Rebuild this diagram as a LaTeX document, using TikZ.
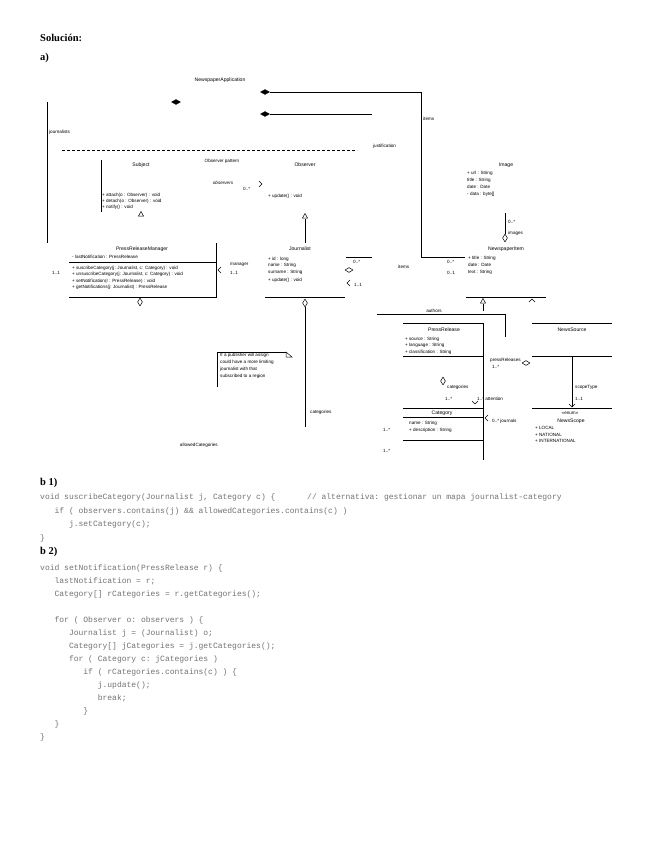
\documentclass[tikz,border=0pt]{standalone}
\usepackage{fontspec}
\setmainfont{Liberation Serif}
\setsansfont{Liberation Sans}
\setmonofont{Liberation Mono}
\usetikzlibrary{shapes.geometric}
\tikzset{
  lbl/.style={font=\sffamily\fontsize{4.6}{5}\selectfont, inner sep=0pt, anchor=west},
  clbl/.style={lbl, anchor=center},
  cls/.style={font=\sffamily\fontsize{5.1}{6}\selectfont, inner sep=0pt, anchor=center},
  code/.style={font=\ttfamily\fontsize{8}{9}\selectfont, text=black!55, inner sep=0pt, anchor=west},
  head/.style={font=\bfseries\fontsize{10.5}{12}\selectfont, inner sep=0pt, anchor=west},
  ln/.style={line width=0.9pt},
  thin ln/.style={line width=0.6pt},
  fdia/.style={diamond, fill=black, draw=black, inner sep=0pt, minimum width=9pt, minimum height=5pt},
  odiav/.style={diamond, draw=black, fill=white, line width=0.5pt, inner sep=0pt, minimum width=5pt, minimum height=8pt},
  odiah/.style={diamond, draw=black, fill=white, line width=0.5pt, inner sep=0pt, minimum width=8pt, minimum height=5pt},
  otri/.pic={\draw[fill=white,line width=0.5pt] (-2.5,2) -- (0,-2.5) -- (2.5,2) -- cycle;},
  larr/.pic={\draw[line width=0.5pt] (3,-3) -- (0,0) -- (3,3);},
  rarr/.pic={\draw[line width=0.5pt] (-3,-3) -- (0,0) -- (-3,3);},
  uarr/.pic={\draw[line width=0.5pt] (-3,3) -- (0,0) -- (3,3);},
  darr/.pic={\draw[line width=0.5pt] (-3,-3) -- (0,0) -- (3,-3);}
}
\begin{document}
\begin{tikzpicture}[x=1pt,y=-1pt]
\useasboundingbox[fill=white] (0,0) rectangle (655,848);

% headings
\node[head] (hsol) at (40,38) {Solución:};
\node[head] (ha) at (40,58) {a)};

% ---------- top part ----------
\node[cls] (napp) at (220,80) {NewspaperApplication};
\node[fdia] (d1) at (176,102) {};
\node[fdia] (d2) at (265,92) {};
\node[fdia] (d3) at (265,114) {};
\coordinate (c2a) at (421,92);
\coordinate (c2b) at (421,257);
\coordinate (c2c) at (465,257);
\coordinate (c3a) at (372,114);
\draw[ln] (d2.east) -- (c2a) -- (c2b) -- (c2c);
\draw[ln] (d3.east) -- (c3a);
\node[lbl] (litems1) at (423,119) {items};

\coordinate (j1) at (47,102);
\coordinate (j2) at (47,243);
\draw[ln] (j1) -- (j2);
\node[lbl] (ljour) at (49,132) {journalists};

\coordinate (ds1) at (62,150);
\coordinate (ds2) at (357,150);
\draw[line width=0.6pt, dash pattern=on 2.6pt off 2.4pt] (ds1) -- (ds2);
\node[lbl] (ljust) at (373,146) {justification};

% Observer pattern
\node[clbl] (lpat) at (222,161) {Observer pattern};
\coordinate (s1) at (101,160);
\coordinate (s2) at (101,212);
\draw[ln] (s1) -- (s2);
\node[cls] (lsubj) at (141,165) {Subject};
\node[lbl] (sm1) at (102,195) {+ attach(o : Observer) : void};
\node[lbl] (sm2) at (102,201) {+ detach(o : Observer) : void};
\node[lbl] (sm3) at (102,207) {+ notify() : void};
\pic at (141,214) {otri};

\node[clbl,font=\sffamily\itshape\fontsize{4.6}{5}\selectfont] (lobs) at (223,183) {observers};
\node[lbl] (lobsm) at (243,189) {0..*};
\pic at (262,184) {rarr};

\node[cls] (lobserver) at (305,165) {Observer};
\node[lbl] (om1) at (268,196) {+ update() : void};
\pic (tobs) at (305,216) {otri};
\coordinate (o1) at (305,218.5);
\coordinate (o2) at (305,243);
\draw[ln] (o1) -- (o2);

% Image
\node[cls] (limg) at (506,165) {Image};
\node[lbl] (ia1) at (467,173) {+ url : String};
\node[lbl] (ia2) at (467,180) {title : String};
\node[lbl] (ia3) at (467,187) {date : Date};
\node[lbl] (ia4) at (467,194) {- data : byte[]};
\coordinate (im1) at (505,213);
\node[odiav] (dimg) at (505,238) {};
\draw[ln] (im1) -- (dimg.north);
\node[lbl] (limm) at (508,222) {0..*};
\node[lbl] (limages) at (508,233) {images};

% NewspaperItem
\node[cls] (lnitem) at (506,249) {NewspaperItem};
\node[lbl] (na1) at (468,258) {+ title : String};
\node[lbl] (na2) at (468,265) {date : Date};
\node[lbl] (na3) at (468,272) {text : String};
\node[lbl] (lnim1) at (447,262) {0..*};
\node[lbl] (lnim2) at (447,273) {0..1};
\node[lbl] (litems2) at (398,267) {items};
\coordinate (nb1) at (466,297);
\coordinate (nb2) at (546,297);
\draw[ln] (nb1) -- (nb2);
\pic at (483,301) {otri};
\coordinate (g1) at (483,303.5);
\coordinate (g2) at (483,311);
\draw[thin ln] (g1) -- (g2);
\pic at (532,299) {uarr};

% PressReleaseManager
\node[cls] (lprm) at (142,249) {PressReleaseManager};
\node[lbl] (pa1) at (72,257) {- lastNotification : PressRelease};
\coordinate (pm1) at (69,262);
\coordinate (pm2) at (216,262);
\coordinate (pm3) at (69,297);
\coordinate (pm4) at (216,297);
\coordinate (pm5) at (216,243);
\draw[ln] (pm1) -- (pm2);
\draw[ln] (pm3) -- (pm4) -- (pm5);
\node[lbl] (pmm1) at (72,268) {+ suscribeCategory(j: Journalist, c: Category) : void};
\node[lbl] (pmm2) at (72,274.5) {+ unsuscribeCategory(j: Journalist, c: Category) : void};
\node[lbl] (pmm3) at (72,281) {+ setNotification(r : PressRelease) : void};
\node[lbl] (pmm4) at (72,287.5) {+ getNotifications(j: Journalist) : PressRelease};
\node[odiav] (dprm) at (140,302) {};
\node[lbl] (lpm11) at (52,273) {1..1};
\pic at (218,270) {larr};
\node[lbl] (lman) at (230,265) {manager};
\node[lbl] (lman2) at (230,273) {1..1};

% Journalist
\node[cls] (ljourn) at (300,249) {Journalist};
\node[lbl] (ja1) at (268,259) {+ id : long};
\node[lbl] (ja2) at (268,265) {name : String};
\node[lbl] (ja3) at (268,272) {surname : String};
\node[lbl] (jm1) at (268,280) {+ update() : void};
\coordinate (jb1) at (265,297);
\coordinate (jb2) at (345,297);
\draw[ln] (jb1) -- (jb2);
\node[odiav] (djour) at (305,303) {};
\coordinate (jc) at (305,427);
\draw[ln] (djour.south) -- (jc);
\node[lbl] (lcats) at (310,412) {categories};
\coordinate (js1) at (346,257);
\coordinate (js2) at (372,257);
\draw[ln] (js1) -- (js2);
\node[lbl] (ljs) at (353,262) {0..*};
\node[odiah] (djs) at (349,270) {};
\pic at (347,283) {larr};
\node[lbl] (ljs2) at (354,285) {1..1};

% note
\coordinate (nt1) at (217,387);
\coordinate (nt2) at (217,352);
\coordinate (nt3) at (286,352);
\draw[ln] (nt1) -- (nt2) -- (nt3);
\draw[line width=0.5pt] (286,352) -- (292,357) -- (286,357) -- cycle;
\node[lbl] (nl1) at (220,355) {If a publisher will assign};
\node[lbl] (nl2) at (220,362) {could have a more limiting};
\node[lbl] (nl3) at (220,369) {journalist with that};
\node[lbl] (nl4) at (220,376) {subscribed to a region};
\node[lbl,anchor=east] (lallow) at (218,445) {allowedCategories};

% authors / PressRelease
\coordinate (au1) at (377,314);
\coordinate (au2) at (505,314);
\coordinate (au3) at (505,337);
\draw[ln] (au1) -- (au2) -- (au3);
\node[clbl] (lauth) at (434,311) {authors};

\coordinate (pr1) at (403,323);
\coordinate (pr2) at (483,323);
\coordinate (pr3) at (483,460);
\draw[ln] (pr1) -- (pr2) -- (pr3);
\node[cls] (lpr) at (444,330) {PressRelease};
\node[lbl] (pra1) at (405,339) {+ source : String};
\node[lbl] (pra2) at (405,345.5) {+ language : String};
\node[lbl] (pra3) at (405,352) {+ classification : String};
\coordinate (pr4) at (403,356);
\coordinate (pr5) at (483,356);
\draw[ln] (pr4) -- (pr5);

\coordinate (ns1) at (532,323);
\coordinate (ns2) at (612,323);
\coordinate (ns3) at (532,356);
\coordinate (ns4) at (612,356);
\draw[ln] (ns1) -- (ns2);
\draw[ln] (ns3) -- (ns4);
\node[cls] (lns) at (572,330) {NewsSource};

\node[lbl] (lpress) at (490,360) {pressReleases};
\node[odiah] (dpress) at (526,363) {};
\node[lbl] (lpress2) at (492,367) {1..*};

\node[odiav] (dcat) at (443,381) {};
\node[lbl] (lcat2) at (447,387) {categories};
\node[lbl] (lcat3) at (445,399) {1..*};
\pic at (475,404) {darr};
\node[lbl] (latt) at (477,399) {1..* attention};

\coordinate (sc1) at (572,356);
\coordinate (sc2) at (572,407);
\draw[ln] (sc1) -- (sc2);
\pic at (572,407) {darr};
\node[lbl] (lscope) at (575,387) {scopeType};
\node[lbl] (lscope2) at (575,399) {1..1};

% Category
\coordinate (ct1) at (403,408);
\coordinate (ct2) at (483,408);
\coordinate (ct3) at (403,417);
\coordinate (ct4) at (483,417);
\coordinate (ct5) at (403,440);
\coordinate (ct6) at (483,440);
\draw[ln] (ct1) -- (ct2);
\draw[ln] (ct3) -- (ct4);
\draw[ln] (ct5) -- (ct6);
\node[cls] (lcat) at (442,413) {Category};
\node[lbl] (ca1) at (409,423) {name : String};
\node[lbl] (ca2) at (409,430) {+ description : String};
\pic at (485,418) {larr};
\node[lbl] (ljrn) at (492,421) {0..* journals};
\node[lbl] (lc1) at (383,430) {1..*};
\node[lbl] (lc2) at (383,451) {1..*};

% NewsScope
\coordinate (sp1) at (532,408);
\coordinate (sp2) at (612,408);
\draw[ln] (sp1) -- (sp2);
\node[clbl] (lenum) at (570,413) {«enum»};
\node[cls] (lnsc) at (571,421) {NewsScope};
\node[lbl] (nsv1) at (535,428) {+ LOCAL};
\node[lbl] (nsv2) at (535,434.5) {+ NATIONAL};
\node[lbl] (nsv3) at (535,441) {+ INTERNATIONAL};

% ---------- code b1 ----------
\node[head] (hb1) at (40,483) {b 1)};
\node[code] (b1l1) at (40,497) {void suscribeCategory(Journalist j, Category c) \{};
\node[code] (b1cm) at (307,497) {// alternativa: gestionar un mapa journalist-category};
\node[code] (b1l2) at (54.4,511) {if ( observers.contains(j) \&\& allowedCategories.contains(c) )};
\node[code] (b1l3) at (68.8,524) {j.setCategory(c);};
\node[code] (b1l4) at (40,538) {\}};

% ---------- code b2 ----------
\node[head] (hb2) at (40,552) {b 2)};
\node[code] (b2l1) at (40,568) {void setNotification(PressRelease r) \{};
\node[code] (b2l2) at (54.4,581) {lastNotification = r;};
\node[code] (b2l3) at (54.4,594) {Category[] rCategories = r.getCategories();};
\node[code] (b2l4) at (54.4,620) {for ( Observer o: observers ) \{};
\node[code] (b2l5) at (68.8,633) {Journalist j = (Journalist) o;};
\node[code] (b2l6) at (68.8,646) {Category[] jCategories = j.getCategories();};
\node[code] (b2l7) at (68.8,659) {for ( Category c: jCategories )};
\node[code] (b2l8) at (83.2,672) {if ( rCategories.contains(c) ) \{};
\node[code] (b2l9) at (97.6,685) {j.update();};
\node[code] (b2l10) at (97.6,698) {break;};
\node[code] (b2l11) at (83.2,711) {\}};
\node[code] (b2l12) at (54.4,724) {\}};
\node[code] (b2l13) at (40,737) {\}};
\end{tikzpicture}
\end{document}
